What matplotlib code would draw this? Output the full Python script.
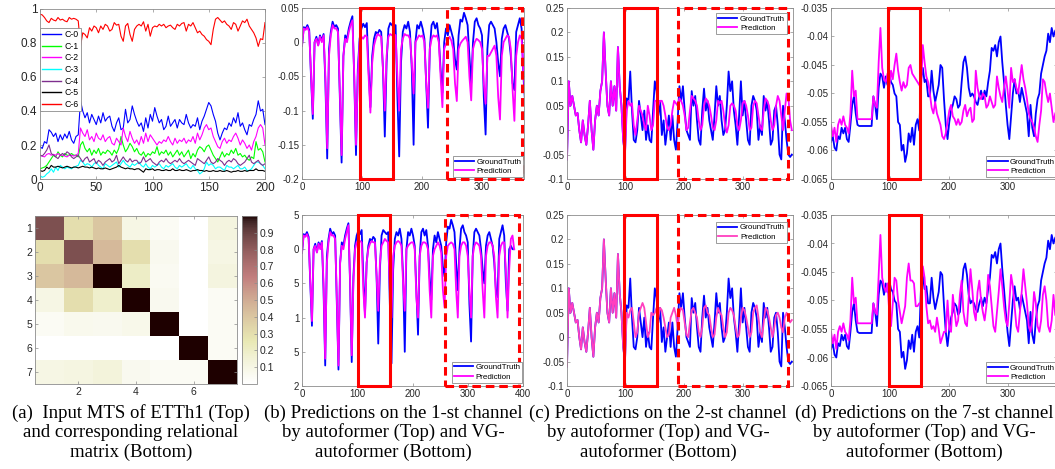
import numpy as np
import matplotlib
matplotlib.use('Agg')
import matplotlib.pyplot as plt
from matplotlib.patches import Rectangle

# ---------------- data ----------------
# (a) input MTS of ETTh1, 7 channels, x = 0,2,...,200
ch_names = ['C-0', 'C-1', 'C-2', 'C-3', 'C-4', 'C-5', 'C-6']
c0 = [0.19, 0.18, 0.22, 0.21, 0.29, 0.275, 0.25, 0.27, 0.22, 0.26,
      0.23, 0.265, 0.24, 0.28, 0.23, 0.21, 0.25, 0.26, 0.46, 0.4,
      0.36, 0.39, 0.33, 0.38, 0.35, 0.32, 0.37, 0.33, 0.39, 0.34,
      0.36, 0.37, 0.31, 0.28, 0.33, 0.36, 0.29, 0.3, 0.41, 0.33,
      0.35, 0.43, 0.38, 0.34, 0.31, 0.33, 0.28, 0.36, 0.3, 0.38,
      0.34, 0.42, 0.37, 0.33, 0.35, 0.29, 0.31, 0.37, 0.31, 0.33,
      0.35, 0.3, 0.35, 0.33, 0.32, 0.38, 0.33, 0.3, 0.32, 0.31,
      0.36, 0.29, 0.34, 0.37, 0.41, 0.45, 0.43, 0.38, 0.34, 0.27,
      0.23, 0.27, 0.3, 0.29, 0.33, 0.31, 0.36, 0.33, 0.39, 0.31,
      0.33, 0.29, 0.26, 0.32, 0.31, 0.35, 0.38, 0.46, 0.4, 0.41,
      0.32]
c1 = [0.06, 0.065, 0.07, 0.08, 0.1, 0.12, 0.14, 0.13, 0.16, 0.14,
      0.13, 0.15, 0.14, 0.14, 0.15, 0.14, 0.14, 0.13, 0.2, 0.22,
      0.18, 0.16, 0.18, 0.14, 0.17, 0.15, 0.18, 0.14, 0.16, 0.15,
      0.17, 0.16, 0.14, 0.17, 0.15, 0.18, 0.25, 0.2, 0.16, 0.18,
      0.21, 0.19, 0.16, 0.18, 0.15, 0.14, 0.16, 0.13, 0.15, 0.14,
      0.16, 0.15, 0.19, 0.14, 0.16, 0.15, 0.17, 0.14, 0.16, 0.13,
      0.15, 0.17, 0.14, 0.16, 0.13, 0.15, 0.17, 0.12, 0.15, 0.13,
      0.17, 0.19, 0.18, 0.16, 0.19, 0.2, 0.17, 0.14, 0.12, 0.1,
      0.13, 0.16, 0.13, 0.15, 0.14, 0.17, 0.15, 0.18, 0.14, 0.15,
      0.13, 0.14, 0.12, 0.11, 0.13, 0.12, 0.22, 0.17, 0.18, 0.16,
      0.1]
c2 = [0.14, 0.135, 0.13, 0.145, 0.15, 0.14, 0.145, 0.14, 0.15, 0.14,
      0.14, 0.135, 0.13, 0.14, 0.14, 0.135, 0.14, 0.15, 0.3, 0.27,
      0.25, 0.29, 0.23, 0.25, 0.22, 0.27, 0.24, 0.23, 0.26, 0.22,
      0.24, 0.25, 0.21, 0.2, 0.24, 0.22, 0.2, 0.3, 0.25, 0.22,
      0.28, 0.24, 0.21, 0.23, 0.2, 0.25, 0.21, 0.27, 0.22, 0.26,
      0.24, 0.22, 0.2, 0.22, 0.21, 0.23, 0.22, 0.25, 0.22, 0.2,
      0.24, 0.21, 0.23, 0.22, 0.24, 0.21, 0.23, 0.22, 0.25, 0.21,
      0.27, 0.23, 0.26, 0.3, 0.32, 0.29, 0.3, 0.25, 0.22, 0.19,
      0.18, 0.22, 0.24, 0.21, 0.23, 0.22, 0.25, 0.27, 0.24, 0.2,
      0.23, 0.21, 0.18, 0.2, 0.17, 0.22, 0.25, 0.3, 0.32, 0.3,
      0.2]
c3 = [0.02, 0.01, 0.015, 0.03, 0.04, 0.06, 0.04, 0.07, 0.05, 0.08,
      0.07, 0.06, 0.07, 0.065, 0.06, 0.07, 0.075, 0.08, 0.11, 0.1,
      0.08, 0.09, 0.085, 0.07, 0.09, 0.1, 0.08, 0.07, 0.06, 0.09,
      0.08, 0.07, 0.08, 0.09, 0.1, 0.07, 0.09, 0.11, 0.09, 0.08,
      0.07, 0.09, 0.08, 0.09, 0.1, 0.08, 0.07, 0.09, 0.07, 0.06,
      0.08, 0.07, 0.08, 0.09, 0.07, 0.06, 0.08, 0.07, 0.08, 0.09,
      0.07, 0.06, 0.08, 0.07, 0.08, 0.09, 0.07, 0.06, 0.08, 0.06,
      0.05, 0.03, 0.04, 0.06, 0.1, 0.08, 0.09, 0.08, 0.06, 0.07,
      0.07, 0.06, 0.05, 0.08, 0.07, 0.07, 0.06, 0.07, 0.08, 0.06,
      0.06, 0.07, 0.05, 0.05, 0.06, 0.08, 0.1, 0.1, 0.09, 0.08,
      0.06]
c4 = [0.14, 0.135, 0.15, 0.17, 0.2, 0.15, 0.14, 0.13, 0.12, 0.14,
      0.15, 0.14, 0.16, 0.15, 0.13, 0.12, 0.13, 0.14, 0.12, 0.1,
      0.12, 0.13, 0.1, 0.11, 0.12, 0.09, 0.11, 0.1, 0.08, 0.1,
      0.11, 0.12, 0.1, 0.11, 0.14, 0.09, 0.11, 0.13, 0.11, 0.1,
      0.12, 0.1, 0.11, 0.11, 0.09, 0.1, 0.13, 0.1, 0.11, 0.12,
      0.1, 0.09, 0.08, 0.1, 0.11, 0.1, 0.12, 0.1, 0.09, 0.1,
      0.11, 0.1, 0.12, 0.1, 0.09, 0.1, 0.11, 0.1, 0.09, 0.08,
      0.12, 0.11, 0.1, 0.09, 0.11, 0.13, 0.1, 0.09, 0.1, 0.12,
      0.11, 0.1, 0.08, 0.1, 0.11, 0.1, 0.12, 0.11, 0.09, 0.08,
      0.09, 0.1, 0.12, 0.14, 0.1, 0.09, 0.1, 0.11, 0.09, 0.08,
      0.09]
c5 = [0.05, 0.045, 0.05, 0.07, 0.06, 0.08, 0.07, 0.07, 0.075, 0.07,
      0.065, 0.07, 0.075, 0.07, 0.065, 0.07, 0.07, 0.065, 0.07, 0.075,
      0.07, 0.07, 0.065, 0.07, 0.065, 0.06, 0.065, 0.06, 0.06, 0.065,
      0.06, 0.055, 0.06, 0.065, 0.07, 0.08, 0.07, 0.065, 0.06, 0.065,
      0.06, 0.06, 0.055, 0.06, 0.06, 0.05, 0.04, 0.06, 0.055, 0.055,
      0.06, 0.05, 0.055, 0.055, 0.05, 0.05, 0.055, 0.05, 0.05, 0.06,
      0.05, 0.05, 0.055, 0.05, 0.05, 0.055, 0.05, 0.045, 0.05, 0.05,
      0.055, 0.05, 0.05, 0.045, 0.05, 0.045, 0.045, 0.05, 0.045, 0.045,
      0.05, 0.045, 0.045, 0.05, 0.045, 0.04, 0.045, 0.045, 0.05, 0.045,
      0.045, 0.05, 0.045, 0.05, 0.05, 0.05, 0.06, 0.05, 0.05, 0.05,
      0.045]
c6 = [0.97, 0.965, 0.95, 0.93, 0.92, 0.945, 0.935, 0.93, 0.95, 0.935,
      0.94, 0.93, 0.925, 0.95, 0.94, 0.945, 0.94, 0.93, 0.78, 0.86,
      0.85, 0.83, 0.89, 0.87, 0.9, 0.89, 0.86, 0.9, 0.88, 0.91,
      0.9, 0.87, 0.88, 0.92, 0.905, 0.91, 0.84, 0.81, 0.9, 0.915,
      0.85, 0.81, 0.88, 0.9, 0.91, 0.9, 0.925, 0.87, 0.91, 0.84,
      0.89, 0.9, 0.895, 0.91, 0.9, 0.91, 0.89, 0.9, 0.905, 0.89,
      0.88, 0.91, 0.9, 0.915, 0.92, 0.87, 0.91, 0.9, 0.92, 0.89,
      0.86, 0.87, 0.85, 0.84, 0.82, 0.81, 0.79, 0.88, 0.94, 0.95,
      0.935, 0.92, 0.93, 0.91, 0.9, 0.88, 0.92, 0.91, 0.87, 0.9,
      0.93, 0.92, 0.94, 0.9, 0.88, 0.86, 0.83, 0.78, 0.825, 0.82,
      0.92]
ch_colors = ['#0000ff', '#00ff00', '#ff00ff', '#00ffff', '#7e2f8e', '#000000', '#ff0000']

# (a) relational matrix
rel = [[0.85, 0.30, 0.40, 0.10, 0.04, 0.00, 0.12],
       [0.30, 0.85, 0.45, 0.30, 0.06, 0.00, 0.10],
       [0.40, 0.45, 1.00, 0.20, 0.05, 0.00, 0.12],
       [0.10, 0.30, 0.18, 1.00, 0.06, 0.00, 0.04],
       [0.04, 0.07, 0.06, 0.08, 1.00, 0.00, 0.04],
       [0.00, 0.00, 0.00, 0.00, 0.00, 1.00, 0.04],
       [0.10, 0.11, 0.13, 0.06, 0.04, 0.04, 1.00]]

# (b) channel 1, x = 0,3,6,...  (one row per day)
b_gt = [-0.005, 0.022, 0.02, 0.025, 0.018, -0.05, -0.112, 0.0,
        0.008, -0.004, 0.01, 0.003, 0.012, -0.06, -0.17, -0.01,
        0.015, 0.03, 0.022, 0.025, 0.02, -0.08, -0.176, -0.02,
        0.01, 0.005, 0.02, 0.03, 0.038, -0.05, -0.165, -0.04,
        0.005, 0.02, 0.027, 0.022, 0.028, -0.04, -0.095, -0.02,
        0.005, 0.015, 0.012, 0.018, 0.015, -0.04, -0.138, -0.03,
        0.02, 0.028, 0.025, 0.022, 0.025, -0.08, -0.167, -0.03,
        0.015, 0.025, 0.02, 0.03, 0.015, -0.04, -0.15, 0.0,
        0.025, 0.02, 0.03, 0.02, 0.005, -0.06, -0.125, -0.01,
        0.025, 0.03, 0.02, 0.028, 0.005, -0.04, -0.074, 0.0,
        0.02, 0.01, 0.025, 0.015, 0.005, -0.025, -0.04, 0.01,
        0.033, 0.03, 0.043, 0.035, 0.025, -0.02, -0.06, 0.0,
        0.03, 0.035, 0.025, 0.02, 0.01, -0.08, -0.135, -0.01,
        0.025, 0.03, 0.025, 0.02, 0.0, -0.03, -0.05, 0.005,
        0.02, 0.025, 0.015, 0.005, -0.02, -0.06, -0.07, 0.015,
        0.025, 0.035, 0.02, -0.05, -0.09, 0.0, 0.005, 0.0, 0.0]
b_pred_top = [-0.005, 0.02, 0.018, 0.022, 0.015, -0.045, -0.105, 0.0,
              0.005, -0.005, 0.008, 0.0, 0.01, -0.05, -0.155, -0.02,
              0.01, 0.025, 0.02, 0.02, 0.015, -0.07, -0.165, -0.02,
              0.005, 0.0, 0.015, 0.025, 0.032, -0.045, -0.15, -0.05,
              0.0, 0.008, 0.005, 0.01, 0.008, -0.05, -0.103, -0.03,
              -0.005, 0.005, 0.012, 0.01, 0.008, -0.04, -0.1, -0.02,
              0.008, 0.012, 0.01, 0.012, 0.01, -0.05, -0.1, -0.01,
              0.005, 0.012, 0.01, 0.01, 0.005, -0.03, -0.075, 0.0,
              0.005, 0.01, 0.008, 0.01, 0.0, -0.06, -0.096, -0.01,
              0.005, 0.01, 0.008, 0.01, 0.0, -0.05, -0.095, -0.01,
              -0.002, 0.003, 0.008, 0.002, -0.01, -0.06, -0.086, -0.01,
              -0.002, 0.002, 0.005, 0.008, 0.0, -0.05, -0.085, -0.01,
              0.0, 0.005, 0.003, 0.0, -0.01, -0.06, -0.09, -0.02,
              -0.02, -0.015, -0.01, -0.005, -0.02, -0.08, -0.113, -0.02,
              0.0, 0.005, 0.01, 0.008, -0.01, -0.07, -0.115, -0.02,
              0.0, 0.01, 0.005, -0.04, -0.08, -0.025, -0.02, -0.025, -0.025]
b_pred_bot = [-0.005, 0.02, 0.018, 0.022, 0.015, -0.045, -0.105, 0.0,
              0.005, -0.005, 0.008, 0.0, 0.01, -0.05, -0.16, -0.02,
              0.01, 0.025, 0.02, 0.02, 0.015, -0.07, -0.17, -0.02,
              0.005, 0.0, 0.015, 0.025, 0.035, -0.045, -0.155, -0.05,
              0.0, 0.01, 0.01, 0.012, 0.01, -0.06, -0.1, -0.02,
              0.0, 0.008, 0.012, 0.01, 0.01, -0.04, -0.09, -0.02,
              0.005, 0.01, 0.015, 0.012, 0.01, -0.06, -0.1, -0.01,
              0.005, 0.01, 0.012, 0.01, 0.005, -0.05, -0.09, 0.0,
              0.005, 0.008, 0.01, 0.01, 0.0, -0.07, -0.1, -0.01,
              0.005, 0.01, 0.01, 0.008, 0.0, -0.06, -0.1, -0.01,
              0.0, 0.005, 0.01, 0.005, -0.005, -0.06, -0.085, -0.01,
              0.005, 0.008, 0.01, 0.008, 0.0, -0.06, -0.1, -0.01,
              0.005, 0.01, 0.01, 0.005, -0.01, -0.06, -0.1, -0.01,
              0.005, 0.01, 0.008, 0.005, -0.01, -0.06, -0.1, -0.01,
              0.005, 0.01, 0.01, 0.005, -0.01, -0.07, -0.1, -0.01,
              0.005, 0.01, 0.01, -0.03, -0.1, -0.03, 0.015, 0.02, 0.0]

# (c) channel 2, x = 0,3,6,...  history (x<100) is shared
c_hist = [-0.06, 0.1, 0.05, 0.07, 0.05, 0.03, 0.035, 0.0, -0.025, 0.02,
          -0.01, -0.03, 0.01, 0.06, 0.0, -0.04, 0.02, 0.05, 0.03, 0.08,
          0.1, 0.2, 0.12, 0.05, 0.03, 0.1, 0.05, 0.09, 0.04, 0.17,
          0.09, 0.05, -0.02, -0.05]
c_gt_fut = [0.065, 0.06, 0.12, 0.04, -0.02, -0.025, 0.0, 0.06, 0.03, 0.0,
            0.04, -0.02, 0.01, -0.02, -0.025, 0.04, 0.1, 0.08, 0.03, 0.06,
            -0.01, 0.02, -0.03, 0.0, 0.03, -0.02, 0.03, -0.02, -0.04, 0.02,
            0.09, 0.06, 0.09, 0.04, 0.0, -0.01, -0.02, 0.08, 0.05, 0.07,
            0.02, -0.02, -0.03, 0.04, 0.085, 0.04, 0.06, 0.02, 0.0, -0.02,
            0.03, 0.09, 0.05, 0.07, 0.02, -0.01, 0.0, 0.05, 0.12, 0.08,
            0.1, 0.04, 0.01, -0.03, 0.03, 0.1, 0.03, 0.06, 0.02, -0.02,
            -0.03, 0.05, 0.07, 0.06, 0.04, -0.02, 0.01, -0.01, 0.07, 0.04,
            0.06, 0.02, -0.03, -0.02, 0.04, 0.05, 0.01, -0.05, -0.06, 0.05,
            0.02, -0.02, -0.05, -0.055, -0.05]
c_pred_top_fut = [0.04, 0.06, 0.05, 0.055, 0.01, -0.01, 0.02, 0.05, 0.04, 0.03,
                  0.01, 0.0, 0.05, 0.03, 0.0, 0.01, 0.06, 0.06, 0.05, 0.06,
                  0.06, 0.05, 0.03, 0.005, 0.0, 0.01, 0.04, 0.06, 0.055, 0.05,
                  0.065, 0.06, 0.05, 0.03, 0.0, 0.005, 0.04, 0.07, 0.065, 0.06,
                  0.05, 0.02, 0.0, 0.01, 0.05, 0.065, 0.06, 0.05, 0.03, 0.005,
                  0.0, 0.02, 0.06, 0.055, 0.06, 0.04, 0.01, -0.005, 0.01, 0.05,
                  0.055, 0.05, 0.04, 0.01, 0.0, 0.02, 0.055, 0.06, 0.05, 0.03,
                  0.0, 0.005, 0.05, 0.06, 0.055, 0.03, 0.005, 0.0, 0.04, 0.065,
                  0.06, 0.05, 0.02, 0.0, 0.01, 0.05, 0.07, 0.06, 0.03, 0.0,
                  0.04, 0.075, 0.07, 0.02, 0.0]
c_pred_bot_fut = [0.05, 0.04, 0.055, 0.06, 0.03, 0.0, 0.01, 0.05, 0.06, 0.07,
                  0.06, 0.03, 0.0, 0.01, 0.05, 0.045, 0.05, 0.06, 0.04, 0.06,
                  0.055, 0.04, 0.02, 0.0, 0.005, 0.04, 0.05, 0.06, 0.045, 0.02,
                  0.05, 0.06, 0.055, 0.03, 0.005, 0.0, 0.03, 0.055, 0.06, 0.05,
                  0.04, 0.01, 0.0, 0.02, 0.06, 0.065, 0.05, 0.045, 0.02, 0.0,
                  0.005, 0.04, 0.06, 0.05, 0.045, 0.02, 0.0, 0.01, 0.05, 0.06,
                  0.055, 0.045, 0.02, 0.0, 0.005, 0.04, 0.06, 0.055, 0.04, 0.02,
                  0.0, 0.01, 0.05, 0.06, 0.065, 0.04, 0.01, 0.0, 0.03, 0.06,
                  0.055, 0.04, 0.02, 0.0, 0.02, 0.045, 0.05, 0.04, 0.02, 0.01,
                  0.04, 0.05, 0.04, 0.03, 0.035]

# (d) channel 7, x = 0,3,6,...
d_gt = [-0.0585, -0.0575, -0.0595, -0.06, -0.0575, -0.058, -0.056, -0.057, -0.056, -0.058,
        -0.0585, -0.0555, -0.052, -0.0505, -0.0535, -0.0555, -0.0557, -0.0557, -0.0557, -0.0557,
        -0.0557, -0.0557, -0.0557, -0.0557, -0.0505, -0.052, -0.0545, -0.049, -0.0465, -0.047,
        -0.049, -0.047, -0.0485, -0.0465, -0.048, -0.0485, -0.05, -0.0505, -0.055, -0.0555,
        -0.06, -0.059, -0.062, -0.0605, -0.057, -0.0585, -0.056, -0.059, -0.0555, -0.0545,
        -0.0565, -0.0475, -0.0455, -0.048, -0.0475, -0.0505, -0.0505, -0.046, -0.0495, -0.0515,
        -0.05, -0.0485, -0.045, -0.0455, -0.051, -0.0555, -0.058, -0.055, -0.053, -0.052,
        -0.0505, -0.051, -0.0525, -0.052, -0.048, -0.0445, -0.0435, -0.0455, -0.049, -0.0505,
        -0.05, -0.0505, -0.0515, -0.052, -0.0505, -0.0495, -0.051, -0.0495, -0.0505, -0.048,
        -0.046, -0.042, -0.0425, -0.0415, -0.0435, -0.041, -0.04, -0.0445, -0.048, -0.052,
        -0.0555, -0.058, -0.054, -0.05, -0.0475, -0.05, -0.0495, -0.0515, -0.049, -0.0505,
        -0.052, -0.0535, -0.0575, -0.052, -0.056, -0.0575, -0.0535, -0.051, -0.05, -0.0465,
        -0.045, -0.0435, -0.0425, -0.0395, -0.041, -0.0385, -0.04, -0.039]
d_pred_top = [-0.0555, -0.0575, -0.056, -0.0585, -0.0555, -0.0545, -0.0555, -0.054, -0.0555, -0.056,
              -0.057, -0.0535, -0.046, -0.0505, -0.0495, -0.0545, -0.0545, -0.0545, -0.0545, -0.0545,
              -0.0545, -0.0545, -0.0545, -0.0545, -0.0505, -0.052, -0.0525, -0.0445, -0.0385, -0.0455,
              -0.0475, -0.048, -0.0465, -0.049, -0.046, -0.0475, -0.045, -0.043, -0.046, -0.048,
              -0.0495, -0.048, -0.049, -0.0485, -0.0455, -0.045, -0.0465, -0.047, -0.0475, -0.048,
              -0.0485, -0.049, -0.0415, -0.0445, -0.047, -0.048, -0.05, -0.0525, -0.0535, -0.0515,
              -0.0535, -0.0545, -0.0555, -0.0575, -0.058, -0.057, -0.055, -0.053, -0.052, -0.054,
              -0.0545, -0.0555, -0.0545, -0.0555, -0.055, -0.053, -0.052, -0.054, -0.053, -0.0525,
              -0.055, -0.0545, -0.046, -0.049, -0.0505, -0.051, -0.05, -0.0505, -0.0525, -0.052,
              -0.0505, -0.0515, -0.0525, -0.052, -0.047, -0.049, -0.0505, -0.0515, -0.049, -0.047,
              -0.0495, -0.0525, -0.0455, -0.048, -0.0475, -0.049, -0.05, -0.0475, -0.045, -0.0475,
              -0.049, -0.051, -0.0535, -0.0545, -0.055, -0.056, -0.0575, -0.0585, -0.0555, -0.053,
              -0.0475, -0.048, -0.05, -0.0515, -0.05, -0.0525, -0.055, -0.0535]
d_pred_bot = [-0.0555, -0.0575, -0.056, -0.0585, -0.0555, -0.0545, -0.0555, -0.054, -0.0555, -0.056,
              -0.057, -0.0535, -0.046, -0.0505, -0.0495, -0.054, -0.054, -0.054, -0.054, -0.054,
              -0.054, -0.054, -0.054, -0.054, -0.0505, -0.052, -0.0525, -0.0455, -0.0385, -0.046,
              -0.0475, -0.0485, -0.047, -0.052, -0.0545, -0.0505, -0.046, -0.0465, -0.05, -0.052,
              -0.054, -0.0525, -0.051, -0.046, -0.0435, -0.0465, -0.0465, -0.047, -0.051, -0.051,
              -0.0505, -0.0505, -0.044, -0.046, -0.051, -0.054, -0.0535, -0.055, -0.0545, -0.0555,
              -0.053, -0.055, -0.0575, -0.0565, -0.0555, -0.0555, -0.05, -0.055, -0.0555, -0.049,
              -0.052, -0.0545, -0.0535, -0.049, -0.0465, -0.052, -0.054, -0.0545, -0.0495, -0.0445,
              -0.048, -0.052, -0.0535, -0.0485, -0.0465, -0.05, -0.052, -0.0535, -0.051, -0.0455,
              -0.0475, -0.051, -0.0545, -0.0555, -0.052, -0.0485, -0.0445, -0.0475, -0.051, -0.0535,
              -0.0545, -0.0505, -0.0455, -0.0475, -0.051, -0.0545, -0.0555, -0.052, -0.0485, -0.0445,
              -0.0475, -0.0505, -0.0545, -0.0555, -0.0535, -0.0485, -0.0505, -0.0545, -0.0555, -0.0535,
              -0.049, -0.0475, -0.05, -0.0545, -0.0555, -0.0535, -0.049, -0.0525]

captions = [['(a)  Input MTS of ETTh1 (Top)', 'and corresponding relational', 'matrix (Bottom)'],
            ['(b) Predictions on the 1-st channel', 'by autoformer (Top) and VG-', 'autoformer (Bottom)'],
            ['(c) Predictions on the 2-st channel', 'by autoformer (Top) and VG-', 'autoformer (Bottom)'],
            ['(d) Predictions on the 7-st channel', 'by autoformer (Top) and VG-', 'autoformer (Bottom)']]

# ---------------- drawing ----------------
W, H = 1055, 469
plt.rcParams['font.family'] = ['Liberation Sans', 'DejaVu Sans']
EDGE = '#8c8c8c'
TXT = '#262626'


def rect(l, t, r, b):
    return [l / W, 1 - b / H, (r - l) / W, (b - t) / H]


def style(ax, size=7):
    for s in ax.spines.values():
        s.set_color(EDGE)
        s.set_linewidth(0.6)
    ax.tick_params(direction='in', length=2.5, width=0.5, color=EDGE,
                   labelcolor=TXT, labelsize=size, top=True, right=True, pad=2)


def xs(y, step=3):
    return np.arange(len(y)) * step


def pred_panel(pos, gt, pred, xlim, ylim, yticks, ylabels, xticks,
               solid, dashed, leg_loc, leg_anchor, pcolor='#ff00ff'):
    ax = fig.add_axes(rect(*pos))
    ax.plot(xs(gt), gt, color='#0000ff', lw=1.3)
    ax.plot(xs(pred), pred, color=pcolor, lw=1.3)
    ax.set_xlim(*xlim)
    ax.set_ylim(*ylim)
    ax.set_yticks(yticks)
    ax.set_yticklabels(ylabels)
    ax.set_xticks(xticks)
    ax.set_xticklabels([str(t) for t in xticks])
    style(ax)
    for (x0, x1), ls in [(solid, '-'), (dashed, (0, (2.8, 1.6)))]:
        if x0 is None:
            continue
        ax.add_patch(Rectangle((x0, ylim[0]), x1 - x0, ylim[1] - ylim[0], fill=False,
                               ec='#ff0000', lw=2.2, ls=ls, clip_on=False, zorder=5))
    lg = ax.legend(['GroundTruth', 'Prediction'], loc=leg_loc, bbox_to_anchor=leg_anchor,
                   fontsize=5.8, fancybox=False, framealpha=1, edgecolor=EDGE,
                   borderpad=0.25, labelspacing=0.2, handlelength=2.4,
                   handletextpad=0.3, borderaxespad=0)
    lg.get_frame().set_linewidth(0.6)
    lg.set_zorder(6)
    return ax


fig = plt.figure(figsize=(W / 100, H / 100), dpi=100)

# (a) top: input series
ax = fig.add_axes(rect(40, 9, 265, 179))
x_in = xs(c0, 2)
for y, c, n in zip([c0, c1, c2, c3, c4, c5, c6], ch_colors, ch_names):
    ax.plot(x_in, y, color=c, lw=0.8, label=n)
ax.set_xlim(0, 200)
ax.set_ylim(0, 1)
ax.set_xticks([0, 50, 100, 150, 200])
ax.set_yticks([0, 0.2, 0.4, 0.6, 0.8, 1])
ax.set_yticklabels(['0', '0.2', '0.4', '0.6', '0.8', '1'])
style(ax, 8.5)
lg = ax.legend(loc='upper left', bbox_to_anchor=(0, 0.888), fontsize=6.3,
               fancybox=False, framealpha=1, edgecolor=EDGE, borderpad=0.25,
               labelspacing=0.3, handlelength=2.2, handletextpad=0.35, borderaxespad=0)
lg.get_frame().set_linewidth(0.6)
for ln in lg.get_lines():
    ln.set_linewidth(1.0)

# (a) bottom: relational matrix
ax = fig.add_axes(rect(35, 216, 237, 384))
im = ax.imshow(np.array(rel), cmap='pink_r', vmin=0, vmax=1, aspect='auto',
               extent=(0.5, 7.5, 7.5, 0.5), interpolation='nearest')
ax.set_xticks([2, 4, 6])
ax.set_yticks([1, 2, 3, 4, 5, 6, 7])
style(ax, 7.5)
cax = fig.add_axes(rect(242, 216, 257, 384))
cb = fig.colorbar(im, cax=cax, ticks=[0.1, 0.2, 0.3, 0.4, 0.5, 0.6, 0.7, 0.8, 0.9])
cb.ax.set_yticklabels(['0.1', '0.2', '0.3', '0.4', '0.5', '0.6', '0.7', '0.8', '0.9'])
cb.outline.set_edgecolor(EDGE)
cb.outline.set_linewidth(0.6)
cax.tick_params(direction='in', length=2, width=0.5, color=EDGE, labelcolor=TXT,
                labelsize=7.5, pad=2)

# (b)
yb = [-0.2, -0.15, -0.1, -0.05, 0, 0.05]
pred_panel((302, 8, 524, 179), b_gt, b_pred_top, (0, 370), (-0.2, 0.05), yb,
           ['-0.2', '-0.15', '-0.1', '-0.05', '0', '0.05'], [0, 100, 200, 300],
           (97, 151), (241, 367), 'lower right', (0.997, 0.012))
pred_panel((302, 215, 523, 386), b_gt, b_pred_bot, (0, 395), (-0.2, 0.05), yb,
           ['2', '5', '1', '5', '0', '5'], [0, 100, 200, 300, 400],
           (102, 160), (258, 392), 'lower right', (0.997, 0.02))

# (c)
yc = [-0.1, -0.05, 0, 0.05, 0.1, 0.15, 0.2, 0.25]
ycl = ['-0.1', '-0.05', '0', '0.05', '0.1', '0.15', '0.2', '0.25']
pred_panel((567, 8, 793, 179), c_hist + c_gt_fut, c_hist + c_pred_top_fut, (0, 386),
           (-0.1, 0.25), yc, ycl, [0, 100, 200, 300],
           (98, 153), (189, 377), 'upper right', (0.973, 0.97))
pred_panel((567, 215, 793, 386), c_hist + c_gt_fut, c_hist + c_pred_bot_fut, (0, 386),
           (-0.1, 0.25), yc, ycl, [0, 100, 200, 300],
           (98, 153), (189, 377), 'upper right', (0.973, 0.96), pcolor='#ff3fbf')

# (d)
yd = [-0.065, -0.06, -0.055, -0.05, -0.045, -0.04, -0.035]
ydl = ['-0.065', '-0.06', '-0.055', '-0.05', '-0.045', '-0.04', '-0.035']
pred_panel((831, 8, 1057, 179), d_gt, d_pred_top, (0, 384), (-0.065, -0.035), yd, ydl,
           [0, 100, 200, 300], (97, 152), (None, None), 'lower right', (1.0, 0.012))
pred_panel((831, 215, 1057, 386), d_gt, d_pred_bot, (0, 384), (-0.065, -0.035), yd, ydl,
           [0, 100, 200, 300], (98, 153), (None, None), 'lower right', (1.0, 0.018))

# captions
for cx, lines in zip([131, 393, 658, 924], captions):
    for ly, s in zip([413, 432, 452], lines):
        fig.text(cx / W, 1 - ly / H, s, ha='center', va='center', fontsize=13.5,
                 family='Liberation Serif', color='black')

fig.savefig('out.png', dpi=100)
